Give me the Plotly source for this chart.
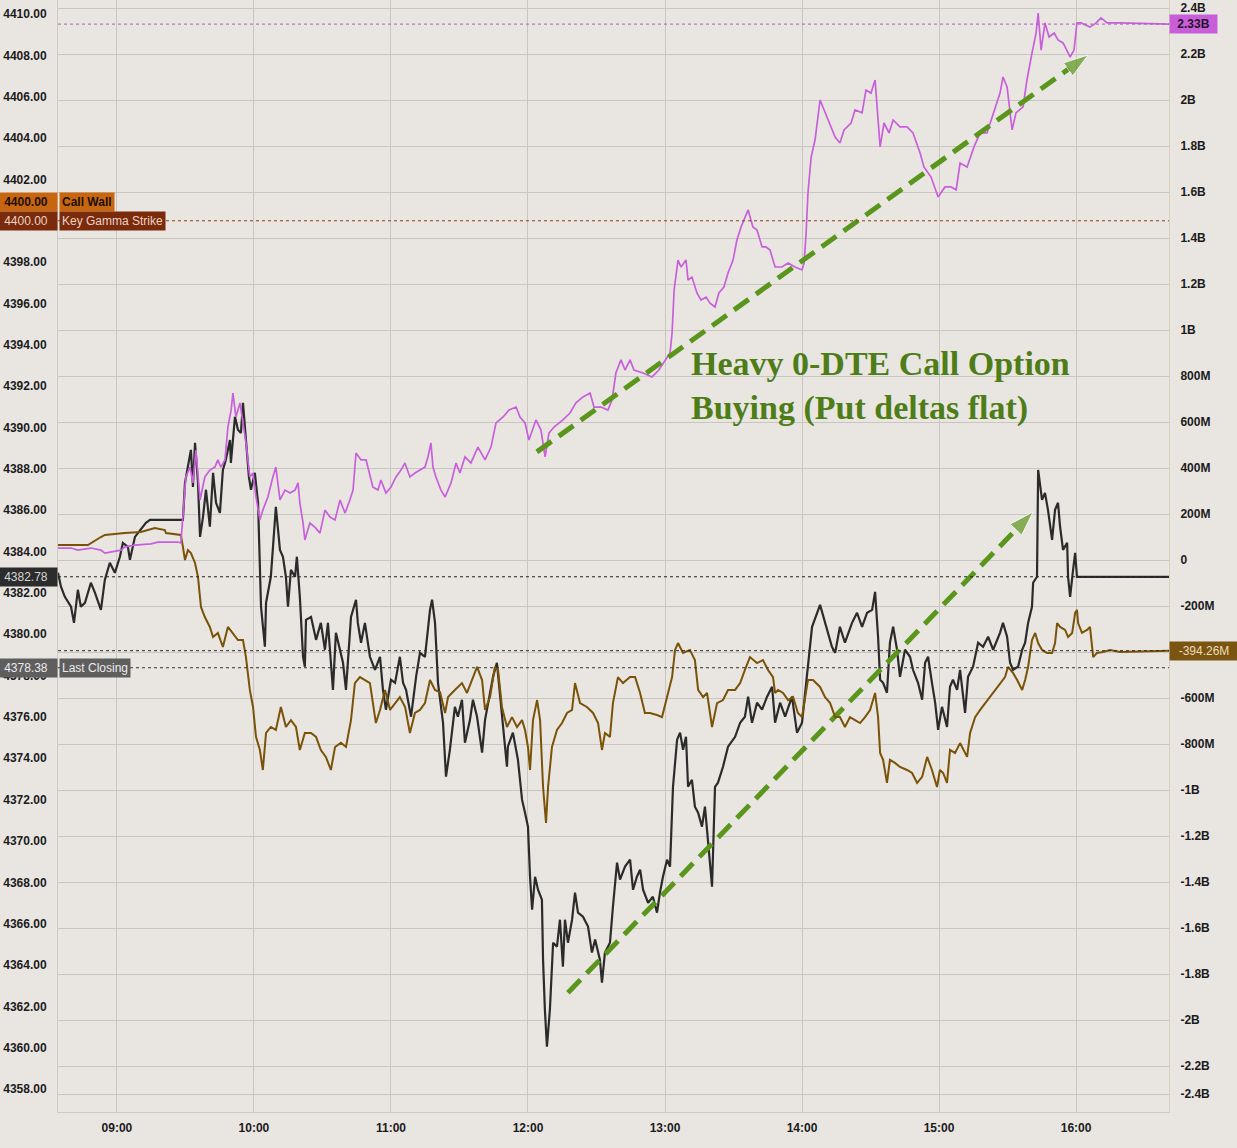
import plotly.graph_objects as go

# ---------------- data (time = minutes after midnight) ----------------
price_t = [
    514.2, 515.5, 517.2, 519.9, 521.2, 522.9, 524.2, 526.0, 528.6, 530.4,
    533.0, 534.7, 536.9, 539.1, 541.3, 542.6, 544.8, 545.7, 547.9, 550.5,
    552.7, 554.5, 568.9, 569.8, 571.1, 572.4, 573.3, 574.2, 575.5, 576.4,
    577.7, 579.0, 580.7, 582.1, 583.4, 585.1, 586.4, 587.7, 589.5, 589.9,
    591.7, 593.0, 594.3, 595.2, 596.5, 597.8, 598.7, 600.4, 601.8, 602.6,
    603.1, 604.8, 605.3, 607.4, 609.6, 611.4, 612.7, 614.0, 614.9, 616.2,
    618.0, 618.8, 620.1, 621.5, 622.3, 622.8, 625.0, 627.2, 629.3, 631.1,
    632.4, 634.6, 635.9, 639.0, 640.3, 642.5, 644.7, 645.5, 646.9, 648.6,
    650.8, 653.0, 655.2, 656.5, 657.8, 660.0, 661.8, 663.9, 665.3, 666.6,
    668.8, 671.0, 672.7, 674.9, 677.1, 678.0, 679.3, 680.6, 682.8, 684.1,
    685.8, 688.0, 689.3, 691.1, 692.4, 694.6, 695.9, 697.7, 699.9, 701.2,
    703.4, 704.7, 706.4, 707.7, 709.1, 710.8, 711.2, 713.4, 715.6, 717.4,
    718.7, 720.0, 720.9, 721.8, 723.1, 724.4, 726.1, 726.6, 727.4, 728.3,
    729.6, 731.0, 732.7, 734.0, 735.3, 736.2, 737.5, 739.3, 740.6, 741.9,
    744.1, 746.3, 748.0, 749.4, 751.5, 752.4, 753.7, 755.9, 757.2, 759.0,
    760.3, 762.5, 764.7, 766.0, 767.7, 769.1, 770.4, 772.6, 774.7, 776.5,
    777.8, 779.1, 780.9, 782.2, 783.5, 785.3, 786.6, 787.9, 789.2, 790.1,
    791.8, 793.1, 794.5, 796.2, 797.5, 798.8, 800.6, 801.9, 803.2, 805.4,
    807.6, 810.7, 812.9, 815.0, 816.4, 818.1, 820.3, 822.5, 824.7, 826.9,
    828.2, 830.4, 832.6, 835.6, 837.8, 840.0, 842.2, 844.4, 847.9, 850.1,
    853.1, 854.5, 856.6, 858.8, 861.9, 864.1, 866.3, 868.5, 870.7, 872.0,
    873.3, 874.2, 875.5, 877.2, 878.5, 879.9, 881.6, 882.9, 885.1, 887.3,
    888.6, 890.8, 892.6, 893.9, 895.2, 896.9, 898.3, 899.6, 901.3, 903.5,
    904.8, 906.1, 907.9, 909.2, 911.4, 912.7, 914.9, 917.1, 919.3, 921.5,
    923.7, 926.7, 928.0, 929.8, 931.1, 932.4, 934.6, 936.4, 937.7, 939.0,
    940.7, 941.2, 942.9, 943.4, 945.1, 946.4, 947.7, 949.5, 950.8, 952.1,
    953.0, 954.3, 956.1, 956.5, 957.4, 958.7, 959.6, 960.4, 1000.7,
]
price_v = [
    4382.97, 4382.30, 4381.81, 4381.33, 4380.55, 4382.15, 4381.33, 4381.52, 4382.49, 4382.00,
    4381.18, 4382.63, 4383.46, 4382.97, 4383.75, 4384.42, 4384.23, 4383.60, 4384.71, 4385.05,
    4385.39, 4385.53, 4385.53, 4387.32, 4388.10, 4388.92, 4387.13, 4389.26, 4387.32, 4384.71,
    4385.68, 4386.99, 4385.20, 4387.81, 4386.36, 4385.87, 4387.95, 4388.44, 4389.40, 4388.29,
    4390.52, 4389.89, 4389.74, 4391.19, 4389.40, 4387.61, 4386.99, 4387.81, 4386.36, 4382.78,
    4381.33, 4379.40, 4381.52, 4382.78, 4386.16, 4384.08, 4383.75, 4382.78, 4381.33, 4383.12,
    4382.78, 4383.75, 4381.81, 4378.91, 4378.43, 4380.70, 4380.84, 4379.73, 4380.55, 4379.25,
    4380.55, 4377.31, 4380.07, 4378.62, 4377.31, 4380.84, 4381.67, 4380.55, 4379.59, 4380.55,
    4378.91, 4378.28, 4378.91, 4377.31, 4376.35, 4377.80, 4377.65, 4378.91, 4377.65, 4377.31,
    4376.01, 4377.94, 4379.10, 4378.91, 4381.18, 4381.67, 4380.55, 4377.65, 4375.72, 4373.11,
    4374.41, 4376.49, 4376.01, 4376.83, 4374.75, 4375.86, 4376.83, 4376.01, 4374.27, 4375.86,
    4377.17, 4377.94, 4378.62, 4377.17, 4375.72, 4373.59, 4374.56, 4375.24, 4373.93, 4372.00,
    4371.37, 4370.69, 4368.27, 4366.68, 4368.27, 4367.64, 4367.16, 4364.26, 4361.84, 4360.05,
    4361.84, 4365.08, 4364.89, 4366.19, 4363.92, 4366.19, 4365.08, 4366.19, 4367.50, 4366.53,
    4366.34, 4365.86, 4364.60, 4365.23, 4364.26, 4363.15, 4364.60, 4365.08, 4366.82, 4368.95,
    4368.13, 4368.76, 4369.10, 4367.64, 4368.27, 4368.61, 4367.64, 4367.01, 4367.30, 4366.53,
    4367.50, 4368.27, 4369.09, 4368.76, 4372.62, 4374.90, 4375.24, 4374.41, 4375.04, 4372.62,
    4372.96, 4371.66, 4371.37, 4370.69, 4371.66, 4369.92, 4367.79, 4372.62, 4372.82, 4373.59,
    4374.56, 4375.04, 4375.72, 4376.01, 4376.98, 4375.72, 4376.69, 4376.35, 4376.98, 4377.46,
    4375.72, 4376.69, 4376.01, 4376.98, 4375.24, 4375.72, 4377.94, 4380.36, 4381.42, 4380.55,
    4379.39, 4379.10, 4380.36, 4379.59, 4380.55, 4381.04, 4380.36, 4381.04, 4381.18, 4382.05,
    4379.88, 4377.80, 4377.65, 4377.17, 4379.59, 4380.36, 4379.25, 4377.94, 4379.25, 4378.91,
    4378.28, 4377.65, 4376.83, 4378.62, 4378.91, 4377.65, 4376.69, 4375.38, 4376.49, 4375.52,
    4377.46, 4377.80, 4377.31, 4378.28, 4376.20, 4377.94, 4378.43, 4379.59, 4379.39, 4379.88,
    4379.25, 4380.07, 4380.55, 4379.88, 4378.62, 4378.28, 4378.43, 4379.25, 4379.59, 4380.55,
    4381.33, 4382.49, 4382.78, 4387.95, 4386.50, 4386.84, 4386.02, 4384.57, 4386.02, 4386.36,
    4385.20, 4384.08, 4384.42, 4382.78, 4381.81, 4383.12, 4383.94, 4382.78, 4382.78,
]

# put delta, millions
put_t = [
    514.2, 521.6, 527.3, 533.0, 534.7, 543.5, 550.5, 556.6, 561.0, 561.5,
    568.0, 568.9, 569.8, 571.1, 572.4, 574.2, 575.5, 576.8, 578.5, 580.7,
    582.1, 584.2, 586.4, 588.6, 590.8, 593.0, 595.2, 596.5, 598.2, 599.6,
    600.9, 602.6, 603.9, 605.3, 607.4, 609.6, 611.8, 614.0, 616.2, 618.4,
    620.1, 622.3, 625.0, 627.2, 629.3, 631.5, 633.7, 635.5, 638.1, 640.3,
    642.5, 644.2, 646.4, 648.6, 650.8, 652.1, 653.4, 655.2, 657.4, 659.6,
    661.8, 663.9, 666.2, 668.3, 670.5, 672.7, 674.9, 677.1, 679.3, 681.5,
    683.7, 685.0, 688.0, 691.1, 693.3, 695.9, 697.7, 699.9, 701.2, 703.4,
    705.5, 706.9, 708.6, 710.8, 713.0, 715.2, 717.4, 718.7, 720.0, 720.9,
    722.2, 724.0, 725.3, 726.6, 727.9, 728.8, 730.5, 732.7, 734.9, 737.1,
    739.3, 740.6, 742.8, 745.8, 748.5, 750.7, 752.4, 753.7, 755.9, 757.2,
    759.4, 761.6, 764.7, 766.9, 769.1, 771.2, 773.4, 776.5, 778.7, 780.9,
    783.1, 784.4, 785.7, 787.9, 790.9, 793.1, 794.5, 796.7, 798.4, 800.6,
    802.8, 805.4, 807.6, 810.7, 812.9, 815.0, 817.2, 820.3, 822.9, 825.1,
    827.3, 828.2, 829.5, 831.7, 833.9, 836.1, 838.2, 840.0, 841.3, 842.6,
    844.8, 847.9, 850.1, 852.3, 854.5, 856.6, 858.8, 861.0, 863.2, 865.4,
    867.6, 869.8, 872.0, 873.3, 874.2, 875.5, 877.2, 878.5, 880.7, 882.9,
    886.0, 888.2, 890.4, 892.6, 894.8, 896.9, 899.1, 900.4, 901.8, 903.5,
    904.8, 907.0, 909.2, 912.3, 913.6, 915.8, 918.0, 920.2, 922.4, 924.5,
    926.7, 928.9, 930.2, 932.4, 934.2, 936.4, 937.7, 939.0, 940.7, 942.1,
    943.4, 945.1, 947.3, 949.5, 950.8, 951.7, 953.0, 955.2, 956.5, 958.3,
    959.6, 960.4, 960.9, 962.6, 964.8, 966.1, 967.5, 969.2, 971.8, 974.9,
    979.2, 1000.7,
]
put_v = [
    65, 65, 65, 100, 109, 117, 122, 139, 130, 117,
    109, 57, 0, 43, 30, -13, -74, -204, -248, -291,
    -335, -317, -378, -291, -317, -348, -348, -422, -565, -639,
    -769, -826, -913, -752, -726, -739, -639, -726, -696, -726,
    -826, -752, -752, -769, -826, -856, -913, -813, -795, -813,
    -696, -535, -509, -522, -535, -622, -709, -652, -565, -652,
    -622, -596, -639, -752, -665, -652, -622, -522, -565, -575,
    -665, -596, -565, -535, -578, -509, -465, -522, -652, -596,
    -465, -478, -639, -726, -683, -726, -696, -739, -813, -913,
    -696, -609, -696, -987, -1143, -987, -813, -739, -709, -665,
    -652, -535, -622, -639, -665, -709, -826, -752, -769, -622,
    -509, -535, -509, -509, -578, -665, -665, -674, -683, -596,
    -509, -391, -361, -404, -391, -435, -565, -596, -578, -726,
    -622, -609, -565, -565, -535, -478, -422, -448, -435, -478,
    -509, -578, -565, -578, -609, -596, -665, -683, -596, -522,
    -522, -552, -596, -622, -683, -683, -726, -683, -696, -709,
    -683, -652, -578, -683, -839, -869, -969, -869, -882, -900,
    -913, -926, -969, -943, -856, -913, -987, -913, -926, -969,
    -826, -839, -796, -856, -752, -683, -652, -622, -596, -565,
    -535, -509, -465, -491, -522, -565, -522, -465, -348, -317,
    -361, -391, -404, -404, -361, -274, -291, -304, -335, -317,
    -230, -217, -274, -317, -304, -291, -422, -404, -400, -391,
    -400, -394.26,
]

# call delta, millions
call_t = [
    514.2, 519.9, 522.9, 528.6, 533.0, 534.7, 541.8, 543.5, 547.9, 554.9,
    558.0, 566.7, 568.0, 568.9, 569.8, 570.2, 572.0, 573.3, 574.6, 576.4,
    578.5, 580.7, 582.9, 584.2, 585.5, 587.3, 588.6, 590.0, 590.8, 592.1,
    593.9, 595.2, 596.5, 598.2, 599.6, 600.9, 602.6, 603.9, 606.1, 608.3,
    609.6, 611.4, 613.6, 615.8, 618.0, 619.3, 620.1, 621.5, 622.3, 624.5,
    626.7, 628.9, 631.1, 633.3, 635.5, 637.7, 639.9, 642.0, 643.4, 644.7,
    646.9, 649.1, 650.8, 652.1, 654.3, 655.6, 657.8, 660.0, 662.2, 664.4,
    666.1, 668.3, 670.5, 672.7, 674.9, 676.2, 677.5, 678.4, 679.7, 681.9,
    683.7, 686.3, 688.5, 690.2, 692.4, 695.0, 698.1, 701.2, 703.8, 706.0,
    709.1, 711.7, 714.8, 716.5, 718.7, 720.4, 723.5, 725.7, 727.5, 729.2,
    731.4, 735.3, 738.4, 741.0, 744.1, 747.2, 748.9, 752.0, 755.0, 756.8,
    758.5, 760.7, 762.5, 764.7, 766.4, 770.4, 774.3, 777.3, 780.4, 782.2,
    783.1, 784.0, 785.7, 787.0, 789.2, 790.1, 791.8, 794.0, 795.8, 798.0,
    799.7, 801.9, 803.6, 805.8, 807.6, 809.8, 811.5, 813.3, 816.4, 818.5,
    820.3, 822.5, 824.2, 826.0, 828.2, 831.2, 833.9, 836.9, 840.0, 840.9,
    841.8, 842.6, 844.0, 845.7, 847.9, 849.6, 851.4, 854.5, 856.6, 858.4,
    861.5, 863.2, 866.3, 868.0, 870.2, 872.0, 874.2, 875.9, 878.1, 879.9,
    882.9, 886.0, 888.6, 891.7, 893.4, 896.5, 899.6, 902.6, 905.3, 907.5,
    909.2, 912.3, 915.3, 918.0, 921.0, 924.1, 926.7, 928.0, 929.8, 932.0,
    933.7, 936.8, 938.5, 940.7, 942.5, 943.4, 944.7, 946.4, 948.2, 950.4,
    952.1, 954.3, 957.4, 959.1, 960.4, 962.2, 966.1, 968.8, 970.9, 973.6,
    979.2, 1000.7,
]
call_v = [
    52, 52, 43, 52, 43, 30, 43, 57, 65, 70,
    78, 78, 74, 187, 304, 361, 404, 335, 478, 261,
    361, 391, 404, 435, 404, 435, 578, 652, 726, 622,
    683, 596, 509, 361, 378, 274, 174, 217, 274, 361,
    404, 261, 304, 291, 304, 335, 248, 161, 87, 161,
    143, 117, 217, 187, 174, 261, 204, 261, 304, 465,
    435, 435, 361, 317, 304, 348, 291, 317, 361, 391,
    422, 361, 378, 391, 404, 448, 509, 404, 361, 304,
    274, 335, 422, 378, 448, 422, 491, 435, 491, 596,
    622, 652, 665, 622, 596, 522, 609, 565, 448, 552,
    578, 609, 639, 683, 709, 726, 665, 665, 652, 696,
    813, 870, 826, 870, 826, 813, 796, 826, 870, 900,
    987, 1174, 1304, 1274, 1304, 1217, 1230, 1161, 1130, 1143,
    1117, 1100, 1161, 1187, 1248, 1304, 1391, 1448, 1522, 1448,
    1435, 1361, 1361, 1348, 1274, 1274, 1291, 1274, 1261, 1291,
    1422, 1596, 1752, 1826, 2000, 1957, 1913, 1839, 1813, 1870,
    1900, 1957, 1944, 2043, 2030, 2087, 1796, 1900, 1857, 1913,
    1883, 1883, 1857, 1770, 1709, 1665, 1578, 1622, 1622, 1609,
    1726, 1709, 1796, 1857, 1857, 1957, 2030, 2100, 2057, 1870,
    1944, 1970, 2087, 2204, 2291, 2378, 2217, 2335, 2274, 2291,
    2261, 2248, 2187, 2217, 2335, 2335, 2317, 2335, 2357, 2335,
    2335, 2330,
]

# reference levels
call_wall = 4400.00
key_gamma = 4400.00
last_price = 4382.78
last_closing = 4378.38
call_last = 2330.0      # 2.33B
put_last = -394.26      # -394.26M

# axis ticks
hour_vals = [540, 600, 660, 720, 780, 840, 900, 960]
hour_text = ["09:00", "10:00", "11:00", "12:00", "13:00", "14:00", "15:00", "16:00"]
left_vals = [4358, 4360, 4362, 4364, 4366, 4368, 4370, 4372, 4374, 4376, 4378, 4380, 4382,
             4384, 4386, 4388, 4390, 4392, 4394, 4396, 4398, 4402, 4404, 4406, 4408, 4410]
left_text = ["4358.00", "4360.00", "4362.00", "4364.00", "4366.00", "4368.00", "4370.00",
             "4372.00", "4374.00", "4376.00", "4378.00", "4380.00", "4382.00", "4384.00",
             "4386.00", "4388.00", "4390.00", "4392.00", "4394.00", "4396.00", "4398.00",
             "4402.00", "4404.00", "4406.00", "4408.00", "4410.00"]
right_vals = [-2322, -2200, -2000, -1800, -1600, -1400, -1200, -1000, -800, -600, -400, -200,
              0, 200, 400, 600, 800, 1000, 1200, 1400, 1600, 1800, 2000, 2200, 2400]
right_text = ["-2.4B", "-2.2B", "-2B", "-1.8B", "-1.6B", "-1.4B", "-1.2B", "-1B", "-800M", "-600M",
              "", "-200M", "0", "200M", "400M", "600M", "800M", "1B", "1.2B", "1.4B",
              "1.6B", "1.8B", "2B", "2.2B", "2.4B"]

# annotation arrows (time, value)
arrow_call_t = [723.9, 965.3]
arrow_call_v = [470, 2196]
arrow_price_t = [737.5, 941.2]
arrow_price_v = [4362.66, 4385.92]
note_text = "Heavy 0-DTE Call Option<br>Buying (Put deltas flat)"
note_t, note_v = 790.5, 757.0

# ---------------- figure ----------------
BG = "#e9e6e2"
GRID = "#c9c6c1"
TICKFONT = dict(family="Liberation Sans", size=12, color="#1b1b1b", weight="bold")
GREEN = "#5a951c"

fig = go.Figure()
fig.add_trace(go.Scatter(x=put_t, y=put_v, yaxis="y2", mode="lines",
                         line=dict(color="#7a5208", width=2), hoverinfo="skip", showlegend=False))
fig.add_trace(go.Scatter(x=price_t, y=price_v, yaxis="y", mode="lines",
                         line=dict(color="#2b2b2b", width=2.2), hoverinfo="skip", showlegend=False))
fig.add_trace(go.Scatter(x=call_t, y=call_v, yaxis="y2", mode="lines",
                         line=dict(color="#c85fdb", width=1.7), hoverinfo="skip", showlegend=False))

for xs, ys, ax in [(arrow_call_t, arrow_call_v, "y2"), (arrow_price_t, arrow_price_v, "y")]:
    fig.add_trace(go.Scatter(x=xs, y=ys, yaxis=ax, mode="lines+markers",
                             line=dict(color=GREEN, width=5, dash="18px,9px"),
                             marker=dict(symbol="arrow", size=[0, 26], angleref="previous",
                                         color=GREEN),
                             hoverinfo="skip", showlegend=False))

# horizontal reference lines
fig.add_shape(type="line", xref="paper", x0=0, x1=1, yref="y2", y0=call_last, y1=call_last,
              line=dict(color="#a75fba", width=1, dash="dot"))
fig.add_shape(type="line", xref="paper", x0=0, x1=1, yref="y", y0=key_gamma, y1=key_gamma,
              line=dict(color="#8a3f16", width=1, dash="dot"))
fig.add_shape(type="line", xref="paper", x0=0, x1=1, yref="y", y0=last_price, y1=last_price,
              line=dict(color="#222222", width=1, dash="3px,3px"))
fig.add_shape(type="line", xref="paper", x0=0, x1=1, yref="y2", y0=put_last, y1=put_last,
              line=dict(color="#2e2a20", width=1, dash="3px,3px"))
fig.add_shape(type="line", xref="paper", x0=0, x1=1, yref="y", y0=last_closing, y1=last_closing,
              line=dict(color="#333333", width=1, dash="dot"))

def left_label(value, name, bg, fg, bold, yshift=0):
    w = "bold" if bold else "normal"
    fig.add_annotation(xref="paper", x=0, xanchor="right", yref="y", y=value, yshift=yshift,
                       text="%.2f" % value, showarrow=False, bgcolor=bg, width=58, height=14,
                       borderpad=2, align="center",
                       font=dict(family="Liberation Sans", size=12, color=fg, weight=w))
    if name:
        fig.add_annotation(xref="paper", x=0, xanchor="left", xshift=1, yref="y", y=value,
                           yshift=yshift, text=name, showarrow=False, bgcolor=bg, height=14,
                           borderpad=2, align="left",
                           font=dict(family="Liberation Sans", size=12, color=fg, weight=w))

left_label(call_wall, "Call Wall", "#c8650f", "#1a1008", True, yshift=19)
left_label(key_gamma, "Key Gamma Strike", "#7a2b0c", "#ecd2c2", False)
left_label(last_price, None, "#2c2c2c", "#d6d6d6", False)
left_label(last_closing, "Last Closing", "#5e5e5e", "#ececec", False)

fig.add_annotation(xref="paper", x=1, xanchor="left", yref="y2", y=call_last,
                   text="%.2fB" % (call_last / 1000), showarrow=False, bgcolor="#c85fd8",
                   width=43, height=14, borderpad=2, align="center",
                   font=dict(family="Liberation Sans", size=12, color="#26102a", weight="bold"))
fig.add_annotation(xref="paper", x=1, xanchor="left", yref="y2", y=put_last,
                   text="%.2fM" % put_last, showarrow=False, bgcolor="#7a5511",
                   width=64, height=14, borderpad=2, align="center",
                   font=dict(family="Liberation Sans", size=12, color="#eedcb8"))

fig.add_annotation(xref="x", yref="y2", x=note_t, y=note_v, xanchor="left", yanchor="middle",
                   align="left", text=note_text, showarrow=False,
                   font=dict(family="Liberation Serif", size=34, color="#4e7d18", weight="bold"))

fig.update_layout(
    width=1237, height=1148,
    margin=dict(l=58, r=68, t=0, b=36),
    paper_bgcolor=BG, plot_bgcolor=BG,
    showlegend=False,
    xaxis=dict(range=[514.2, 1000.7], tickmode="array", tickvals=hour_vals, ticktext=hour_text,
               showgrid=True, gridcolor=GRID, gridwidth=1, zeroline=False,
               showline=True, linecolor="#cfcac3", linewidth=1, ticks="",
               tickfont=TICKFONT, automargin=False, ticklabelstandoff=5),
    yaxis=dict(range=[4356.89, 4410.68], tickmode="array", tickvals=left_vals, ticktext=left_text,
               showgrid=False, zeroline=False, showline=True, linecolor="#cfcac3", linewidth=1,
               ticks="", tickfont=TICKFONT, automargin=False, ticklabelstandoff=8),
    yaxis2=dict(range=[-2400, 2434.8], overlaying="y", side="right", tickmode="array",
                tickvals=right_vals, ticktext=right_text, showgrid=True, gridcolor=GRID,
                gridwidth=1, zeroline=False, showline=True, linecolor="#d8d1bd", linewidth=1,
                ticks="", tickfont=TICKFONT, automargin=False, ticklabelstandoff=8),
)

fig.write_html("out.html", config={"displayModeBar": False},
               post_script="document.body.style.margin='0';document.body.style.background='%s';" % BG)
